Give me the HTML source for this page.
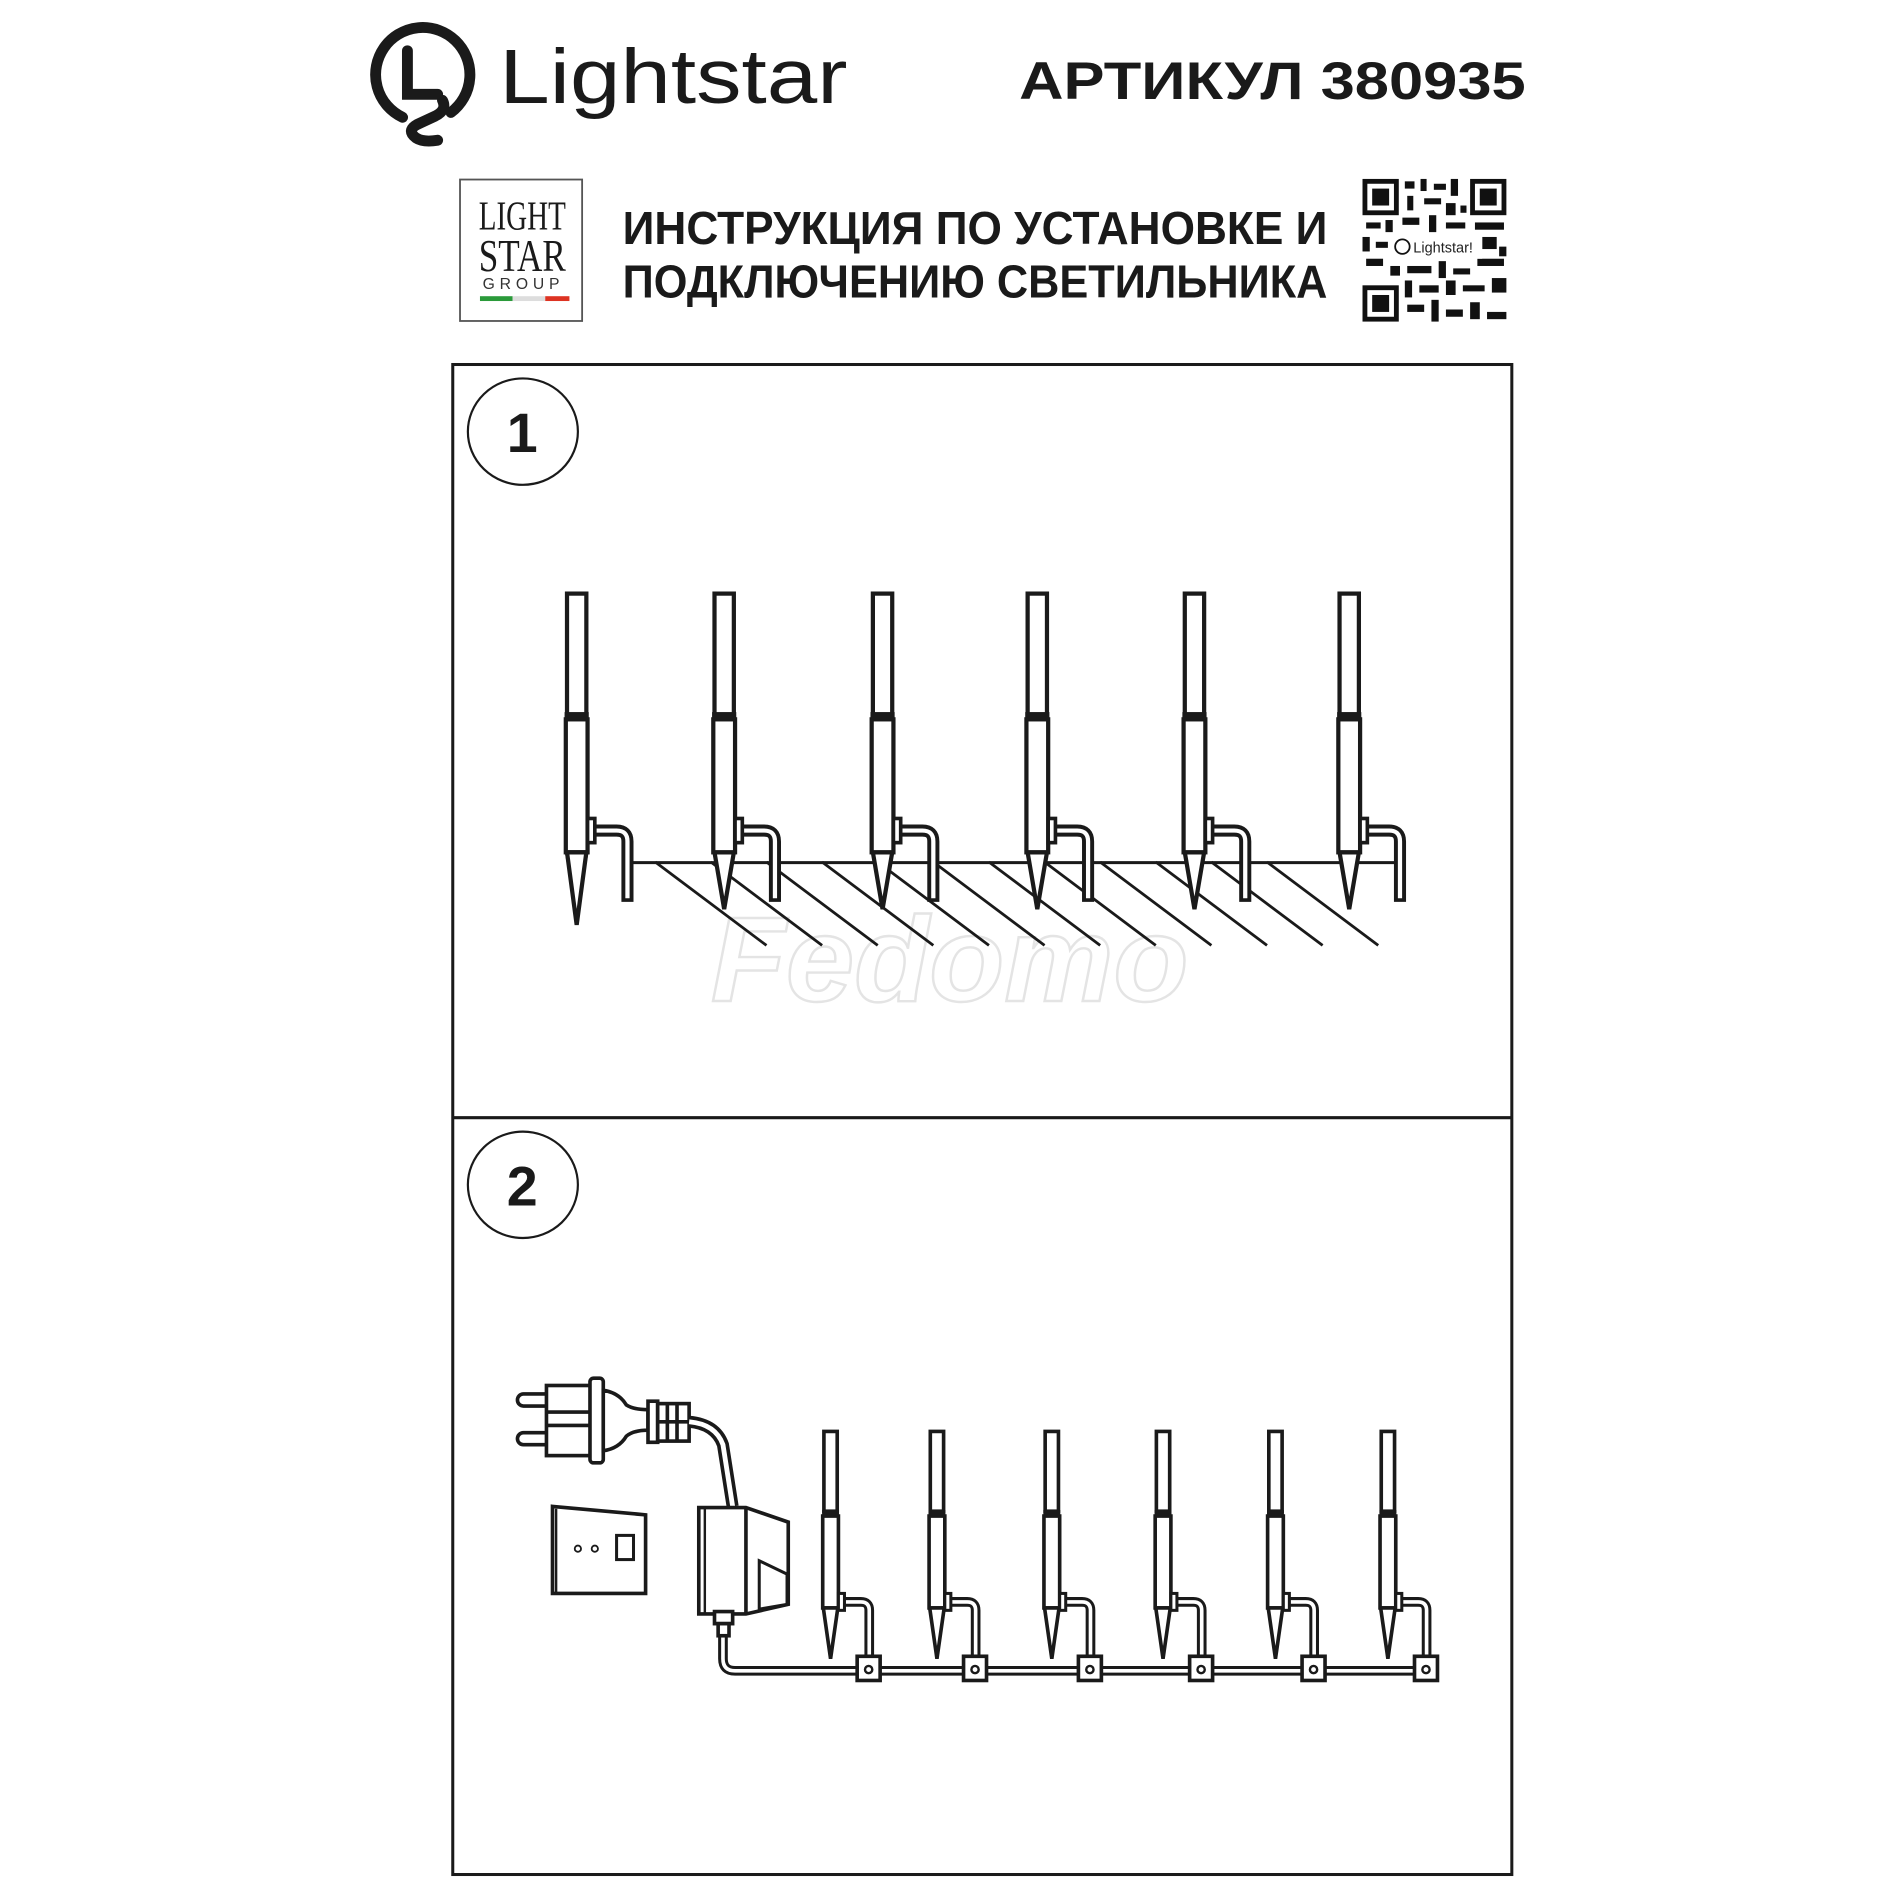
<!DOCTYPE html>
<html><head><meta charset="utf-8"><style>
html,body{margin:0;padding:0;background:#fff;}
svg{display:block;}
</style></head><body>
<svg width="1886" height="1886" viewBox="0 0 1560 1560" xmlns="http://www.w3.org/2000/svg">
<defs>
<g id="s1">
  <rect x="-8" y="491" width="16" height="100" fill="#fff" stroke="#1a1a1a" stroke-width="3.5"/>
  <rect x="-10" y="589" width="20" height="6" fill="#1a1a1a"/>
  <rect x="-9" y="595" width="18" height="110" fill="#fff" stroke="#1a1a1a" stroke-width="3.5"/>
  <polygon points="-8,705 8,705 0,752" fill="#fff" stroke="#1a1a1a" stroke-width="3.5" stroke-linejoin="miter"/>
  <path d="M14 687 H33 Q42 687 42 696 V746" fill="none" stroke="#1a1a1a" stroke-width="10"/>
  <path d="M14 687 H33 Q42 687 42 696 V743" fill="none" stroke="#fff" stroke-width="3.5"/>
  <rect x="9" y="677" width="6" height="20" fill="#fff" stroke="#1a1a1a" stroke-width="3"/>
</g>
<g id="s2">
  <rect x="-5.5" y="1184" width="11" height="66" fill="#fff" stroke="#1a1a1a" stroke-width="3"/>
  <rect x="-7" y="1249" width="14" height="5" fill="#1a1a1a"/>
  <rect x="-6.5" y="1254" width="13" height="76" fill="#fff" stroke="#1a1a1a" stroke-width="3"/>
  <polygon points="-6,1330 6,1330 0,1372" fill="#fff" stroke="#1a1a1a" stroke-width="3"/>
  <path d="M10 1325 H25 Q32 1325 32 1332 V1372" fill="none" stroke="#1a1a1a" stroke-width="8"/>
  <path d="M10 1325 H25 Q32 1325 32 1332 V1372" fill="none" stroke="#fff" stroke-width="3"/>
  <rect x="6.5" y="1318" width="5" height="14" fill="#fff" stroke="#1a1a1a" stroke-width="2.5"/>
</g>
<g id="cb">
  <rect x="22" y="1370" width="19" height="20" fill="#fff" stroke="#1a1a1a" stroke-width="3"/>
  <circle cx="31.5" cy="1381" r="3" fill="#fff" stroke="#1a1a1a" stroke-width="2"/>
</g>
</defs>

<!-- logo -->
<g fill="none" stroke="#1a1a1a" stroke-width="9" stroke-linecap="round">
  <path d="M333 97 A39 39 0 1 1 373 93"/>
  <path d="M337 42 V78 H362"/>
  <path d="M366 83 Q370 91 360 96 L345 103 Q336 108 344 114 Q350 118 362 116"/>
</g>
<text x="413" y="85" font-family="Liberation Sans, sans-serif" font-size="64" fill="#1a1a1a" textLength="288" lengthAdjust="spacingAndGlyphs">Lightstar</text>
<text x="843" y="82" font-family="Liberation Sans, sans-serif" font-weight="bold" font-size="44" fill="#1a1a1a" textLength="419" lengthAdjust="spacingAndGlyphs">АРТИКУЛ 380935</text>

<!-- LSG box -->
<rect x="380.5" y="148.5" width="101" height="117" fill="#fff" stroke="#555" stroke-width="1.5"/>
<text x="432" y="190" text-anchor="middle" font-family="Liberation Serif, serif" font-size="34" fill="#1a1a1a" textLength="72" lengthAdjust="spacingAndGlyphs">LIGHT</text>
<text x="432" y="224" text-anchor="middle" font-family="Liberation Serif, serif" font-size="38" fill="#1a1a1a" textLength="72" lengthAdjust="spacingAndGlyphs">STAR</text>
<text x="433" y="239" text-anchor="middle" font-family="Liberation Sans, sans-serif" font-size="13" fill="#333" letter-spacing="4">GROUP</text>
<rect x="397" y="245" width="27" height="4" fill="#2a9a3a"/>
<rect x="424" y="245" width="27" height="4" fill="#ddd"/>
<rect x="451" y="245" width="20" height="4" fill="#d32"/>

<text x="515" y="202" font-family="Liberation Sans, sans-serif" font-weight="bold" font-size="38" fill="#1a1a1a" textLength="583" lengthAdjust="spacingAndGlyphs">ИНСТРУКЦИЯ ПО УСТАНОВКЕ И</text>
<text x="515" y="246" font-family="Liberation Sans, sans-serif" font-weight="bold" font-size="38" fill="#1a1a1a" textLength="583" lengthAdjust="spacingAndGlyphs">ПОДКЛЮЧЕНИЮ СВЕТИЛЬНИКА</text>

<!-- QR -->
<g fill="#111">
  <rect x="1127" y="148" width="30" height="30"/><rect x="1131" y="152" width="22" height="22" fill="#fff"/><rect x="1135" y="156" width="14" height="14"/>
  <rect x="1216" y="148" width="30" height="30"/><rect x="1220" y="152" width="22" height="22" fill="#fff"/><rect x="1224" y="156" width="14" height="14"/>
  <rect x="1127" y="236" width="30" height="30"/><rect x="1131" y="240" width="22" height="22" fill="#fff"/><rect x="1135" y="244" width="14" height="14"/>
  <rect x="1162" y="150" width="8" height="6"/><rect x="1175" y="148" width="5" height="10"/><rect x="1186" y="152" width="10" height="5"/><rect x="1200" y="148" width="6" height="14"/>
  <rect x="1164" y="162" width="5" height="12"/><rect x="1178" y="164" width="14" height="5"/><rect x="1196" y="168" width="8" height="10"/><rect x="1208" y="170" width="5" height="6"/>
  <rect x="1130" y="184" width="12" height="5"/><rect x="1146" y="182" width="6" height="10"/><rect x="1160" y="180" width="14" height="6"/><rect x="1182" y="178" width="6" height="14"/><rect x="1196" y="184" width="16" height="5"/><rect x="1220" y="184" width="24" height="6"/>
  <rect x="1127" y="196" width="6" height="12"/><rect x="1138" y="200" width="10" height="5"/><rect x="1226" y="196" width="12" height="10"/><rect x="1240" y="204" width="6" height="8"/>
  <rect x="1130" y="214" width="14" height="6"/><rect x="1150" y="220" width="8" height="8"/><rect x="1164" y="220" width="20" height="6"/><rect x="1190" y="216" width="6" height="14"/><rect x="1202" y="222" width="14" height="5"/><rect x="1222" y="214" width="22" height="6"/>
  <rect x="1162" y="232" width="6" height="14"/><rect x="1174" y="236" width="16" height="6"/><rect x="1196" y="232" width="8" height="12"/><rect x="1210" y="236" width="18" height="5"/><rect x="1234" y="230" width="12" height="12"/>
  <rect x="1164" y="252" width="14" height="6"/><rect x="1184" y="248" width="6" height="18"/><rect x="1196" y="256" width="14" height="6"/><rect x="1216" y="250" width="8" height="14"/><rect x="1230" y="258" width="16" height="6"/>
</g>
<rect x="1150" y="194" width="76" height="20" fill="#fff"/>
<circle cx="1160" cy="204" r="6" fill="none" stroke="#111" stroke-width="1.5"/>
<text x="1169" y="209" font-family="Liberation Sans, sans-serif" font-size="12" fill="#222">Lightstar!</text>

<!-- frame -->
<rect x="374.5" y="301.5" width="876" height="1249" fill="none" stroke="#1a1a1a" stroke-width="2.5"/>
<line x1="374" y1="924.5" x2="1251" y2="924.5" stroke="#1a1a1a" stroke-width="2.5"/>

<ellipse cx="432.5" cy="357" rx="45.5" ry="44" fill="none" stroke="#1a1a1a" stroke-width="1.8"/>
<text x="432" y="374" text-anchor="middle" font-family="Liberation Sans, sans-serif" font-weight="bold" font-size="46" fill="#1a1a1a">1</text>
<ellipse cx="432.5" cy="980" rx="45.5" ry="44" fill="none" stroke="#1a1a1a" stroke-width="1.8"/>
<text x="432" y="997" text-anchor="middle" font-family="Liberation Sans, sans-serif" font-weight="bold" font-size="46" fill="#1a1a1a">2</text>

<!-- watermark -->
<text x="588" y="828" font-family="Liberation Sans, sans-serif" font-weight="bold" font-style="italic" font-size="100" fill="none" stroke="#e4e4e4" stroke-width="2" textLength="395" lengthAdjust="spacingAndGlyphs">Fedomo</text>

<!-- panel 1 ground -->
<line x1="522" y1="713.5" x2="1162" y2="713.5" stroke="#1a1a1a" stroke-width="2.5"/>
<g stroke="#1a1a1a" stroke-width="2.3">
  <line x1="542" y1="713" x2="634" y2="782"/><line x1="588" y1="713" x2="680" y2="782"/>
  <line x1="634" y1="713" x2="726" y2="782"/><line x1="680" y1="713" x2="772" y2="782"/>
  <line x1="726" y1="713" x2="818" y2="782"/><line x1="772" y1="713" x2="864" y2="782"/>
  <line x1="818" y1="713" x2="910" y2="782"/><line x1="864" y1="713" x2="956" y2="782"/>
  <line x1="910" y1="713" x2="1002" y2="782"/><line x1="956" y1="713" x2="1048" y2="782"/>
  <line x1="1002" y1="713" x2="1094" y2="782"/><line x1="1048" y1="713" x2="1140" y2="782"/>
</g>
<use href="#s1" x="477"/><use href="#s1" x="599"/><use href="#s1" x="730"/>
<use href="#s1" x="858"/><use href="#s1" x="988"/><use href="#s1" x="1116"/>
<polygon points="469,705 485,705 477,765" fill="#fff" stroke="#1a1a1a" stroke-width="3.5"/>

<!-- panel 2 -->
<!-- plug -->
<g stroke="#1a1a1a" stroke-width="3" fill="#fff">
  <rect x="428" y="1153" width="28" height="10" rx="5"/>
  <rect x="428" y="1185" width="28" height="10" rx="5"/>
  <rect x="452" y="1146" width="38" height="58"/>
  <line x1="452" y1="1168" x2="490" y2="1168"/><line x1="452" y1="1179" x2="490" y2="1179"/>
  <rect x="488" y="1140" width="11" height="70" rx="3"/>
  <path d="M499 1150 Q512 1152 518 1162 Q524 1166 536 1166 V1183 Q524 1183 518 1188 Q512 1198 499 1200 Z"/>
  <rect x="536" y="1159" width="8" height="34"/>
  <rect x="544" y="1161" width="26" height="31"/>
  <line x1="552" y1="1161" x2="552" y2="1192" stroke-width="3"/><line x1="560" y1="1161" x2="560" y2="1192"/>
  <line x1="544" y1="1176" x2="570" y2="1176"/>
</g>
<path d="M570 1176 Q592 1178 598 1195 L606 1246" fill="none" stroke="#1a1a1a" stroke-width="10"/>
<path d="M570 1176 Q592 1178 598 1195 L606 1246" fill="none" stroke="#fff" stroke-width="4"/>
<!-- wall switch -->
<g stroke="#1a1a1a" fill="#fff">
  <path d="M457 1246 L534 1253 V1318 H457 Z" stroke-width="3"/>
  <line x1="460" y1="1248" x2="460" y2="1317" stroke-width="2"/>
  <circle cx="478" cy="1281" r="2.6" stroke-width="1.5"/><circle cx="492" cy="1281" r="2.6" stroke-width="1.5"/>
  <rect x="510" y="1270" width="14" height="20" stroke-width="2.5"/>
</g>
<!-- main wire -->
<path d="M598 1352 V1372 Q598 1382 608 1382 H1185" fill="none" stroke="#1a1a1a" stroke-width="8"/>
<path d="M598 1352 V1372 Q598 1382 608 1382 H1185" fill="none" stroke="#fff" stroke-width="3"/>
<!-- transformer -->
<g stroke="#1a1a1a" fill="#fff" stroke-width="3">
  <path d="M578 1247 H617 L652 1259 V1327 L617 1335 H578 Z"/>
  <line x1="583" y1="1247" x2="583" y2="1335" stroke-width="2"/>
  <line x1="617" y1="1247" x2="617" y2="1335"/>
  <path d="M628 1291 L651 1302 V1327 L628 1331 Z" stroke-width="2.5"/>
  <rect x="591" y="1333" width="15" height="10"/>
  <rect x="594" y="1343" width="9" height="10"/>
</g>
<use href="#s2" x="687"/><use href="#s2" x="775"/><use href="#s2" x="870"/>
<use href="#s2" x="962"/><use href="#s2" x="1055"/><use href="#s2" x="1148"/>
<use href="#cb" x="687"/><use href="#cb" x="775"/><use href="#cb" x="870"/>
<use href="#cb" x="962"/><use href="#cb" x="1055"/><use href="#cb" x="1148"/>
</svg>
</body></html>
